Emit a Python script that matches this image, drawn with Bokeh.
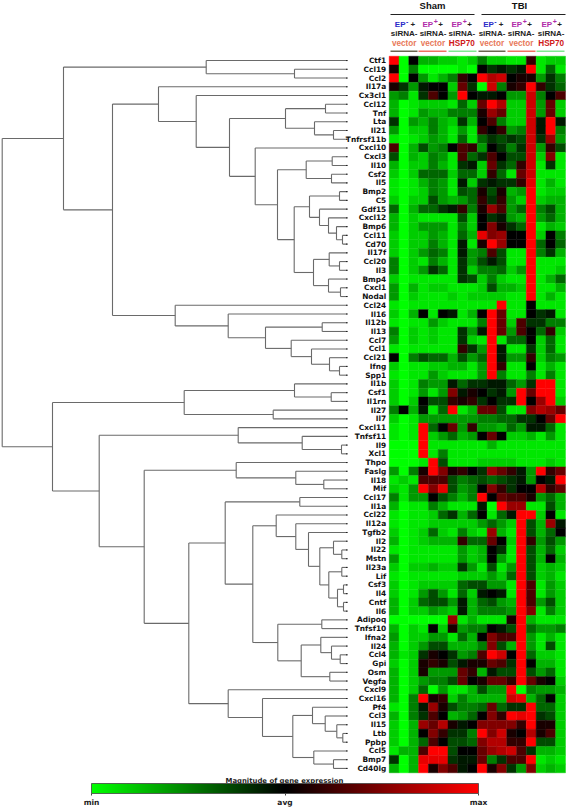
from bokeh.plotting import figure
from bokeh.models import ColumnDataSource, LinearColorMapper, ColorBar, FixedTicker, Range1d
from bokeh.transform import transform
from bokeh.core.properties import value
from bokeh.embed import file_html
from bokeh.resources import INLINE

genes = ["Ctf1","Ccl19","Ccl2","Il17a","Cx3cl1","Ccl12","Tnf","Lta","Il21","Tnfrsf11b","Cxcl10","Cxcl3","Il10","Csf2","Il5","Bmp2","C5",
 "Gdf15","Cxcl12","Bmp6","Ccl11","Cd70","Il17f","Ccl20","Il3","Bmp4","Cxcl1","Nodal","Ccl24","Il16","Il12b","Il13","Ccl7","Ccl1","Ccl21","Ifng","Spp1",
 "Il1b","Csf1","Il1rn","Il27","Il7","Cxcl11","Tnfsf11","Il9","Xcl1","Thpo","Faslg","Il18","Mif","Ccl17","Il1a","Ccl22","Il12a","Tgfb2","Il2","Il22","Mstn",
 "Il23a","Lif","Csf3","Il4","Cntf","Il6","Adipoq","Tnfsf10","Ifna2","Il24","Ccl4","Gpi","Osm","Vegfa","Cxcl9","Cxcl16","Pf4","Ccl3","Il15","Ltb","Ppbp","Ccl5","Bmp7","Cd40lg"]

# magnitude of expression per gene, 18 samples; 0 = min, 5 = avg, 10 = max
expression = [
[10,0,5,1.5,1.5,1,1,.5,1,2.5,1,1,.5,.5,6,.5,1,1],
[5.5,0,2.5,0,0,0,0,.5,0,5,4,4.5,4,4.5,10,.5,3,.5],
[10,0,5,2,.5,1.5,2.5,6,5,10,8.5,9,5,5.5,5.5,2,4,2.5],
[5.5,4,2,4.5,5,5,1,7,4,0,9,2.5,5.5,6,10,6,4,3],
[2,2.5,.5,4,6.5,5,2,10,5,4.5,4.5,5,2,2,9,2.5,5,6.5],
[1.5,0,.5,1,1,1,.5,3,1,7,10,8.5,1,1,9,2,7,1],
[1.5,0,.5,2,1.5,1.5,2.5,2.5,2.5,5.5,8,7,1,1,9,2,7,1],
[4,0,2,1.5,2.5,1.5,1,4,1.5,5,6.5,2.5,1,1,9,4.5,10,4.5],
[2,0,1,1,2.5,1.5,.5,2,.5,6,5,6,2,2.5,9,4.5,10,2.5],
[.5,0,.5,1,2,1.5,.5,3,.5,3,4,3.5,4,3.5,9,4,8,2],
[6.5,0,1.5,3.5,2,2.5,5,6.5,6,2,5,4,2.5,4,9,2,6,3.5],
[3.5,0,1.5,1,2.5,2,.5,6.5,3,4,6.5,5,3.5,3.5,9,1,7.5,.5],
[1.5,0,1,1,2.5,1.5,.5,4,4.5,1,7,4,3,6,9,.5,4,.5],
[1,0,1,3,3,3,1,3,3,1,6,3,.5,7,9,.5,.5,.5],
[.5,0,.5,1.5,2.5,2,.5,4.5,1,4,4.5,4,4,6,9.5,.5,1.5,.5],
[.5,0,.5,1,2.5,2,.5,3.5,3,5.5,3.5,5.5,1.5,2,10,.5,1,1],
[1,0,1,1,3.5,2,1.5,2,3,6,4,6,2,1,10,1,1.5,1.5],
[3,0,1.5,3,3,4,4.5,6,2.5,5.5,8,6.5,2,3,10,2.5,3.5,1.5],
[1.5,0,1,.5,.5,.5,.5,3.5,1,5,4,4.5,2,1.5,10,2,3,1.5],
[1.5,0,1,2,2,2,.5,2.5,1,5,7.5,5.5,4,3,10,.5,1.5,1],
[1,0,1,1,2,1.5,.5,3,1.5,9.5,7.5,8,5,5,10,1,5,2.5],
[1,0,1,1,2.5,1.5,.5,4.5,.5,5.5,10,8,5,5,10,3,5,3],
[1,0,1,2,3,2.5,.5,4.5,2,2.5,6.5,3.5,.5,.5,10,2.5,4,1.5],
[2.5,0,1,.5,2.5,1.5,.5,4,2,3.5,4.5,3.5,.5,.5,10,.5,.5,.5],
[2.5,0,1,2,4,3,.5,4,1,2.5,2.5,3,1,2,10,.5,.5,1],
[1,0,.5,.5,.5,.5,.5,4,3.5,1,2.5,1,.5,.5,10,.5,1.5,3],
[2,0,1.5,.5,1,1,.5,.5,.5,1,3.5,1.5,1.5,1,10,.5,.5,1.5],
[2,0,1,.5,.5,.5,1,.5,1,1,1,1,.5,.5,10,.5,1.5,.5],
[.5,0,.5,.5,.5,.5,.5,.5,.5,.5,.5,10,.5,.5,5,.5,.5,.5],
[1,0,1.5,5,.5,5,4.5,.5,1.5,5,10,7,.5,.5,5,4,4.5,.5],
[.5,0,.5,.5,2,1,.5,.5,.5,2.5,10,7,1,6.5,4,4,2.5,2.5],
[2.5,0,1,.5,1,.5,.5,4,2,4.5,10,7,2,6.5,5,3,6,1],
[2,0,1,.5,1,.5,.5,4,1,.5,10,.5,3,3,5,1,3,.5],
[.5,0,.5,.5,.5,.5,.5,6,4,2,10,4.5,.5,.5,4,1,3,.5],
[5,0,2.5,3.5,3,3,1.5,3.5,2,3,10,4.5,2,2,6,1,2.5,2],
[1,0,.5,.5,1,1,1.5,1.5,.5,2,10,6,.5,.5,5,.5,1.5,.5],
[.5,0,.5,.5,2,1,.5,.5,.5,2,10,2.5,.5,.5,2.5,.5,2.5,.5],
[1,0,.5,2.5,2,2,4.5,3,4,4,4.5,4.5,3,2,4,10,10,.5],
[1,0,.5,2,.5,2,7.5,4.5,5.5,5,4,4.5,2,10,7,10,10,.5],
[1,0,1,5,3.5,3.5,6,5.5,6,4,5,4,4,10,5,8,10,1],
[2.5,5,1.5,4.5,.5,3,10,.5,1.5,7,7,3.5,.5,.5,7.5,8.5,8,7],
[1,0,.5,2,2,2,2,2,2,2.5,2.5,3,3,4,4,5,7,10],
[.5,0,.5,10,3,5,7,2,6,2,2,1.5,3,2,4.5,4.5,3,.5],
[.5,0,.5,10,1,2,3,1.5,2,5,7,5,1,1,1.5,.5,2,.5],
[0,0,0,10,.5,.5,.5,.5,.5,.5,1.5,.5,.5,.5,.5,.5,.5,.5],
[0,0,0,10,.5,2.5,.5,.5,.5,.5,.5,.5,.5,.5,.5,.5,.5,.5],
[0,0,0,.5,10,3.5,.5,.5,.5,1,1,1,1,.5,.5,.5,1,.5],
[2,0,2.5,5.5,10,7.5,5.5,6,5,4,8,7,6,4.5,2,10,6,7],
[.5,1,.5,6.5,6.5,6.5,3.5,2.5,3,3.5,3,3.5,4,4.5,2,5,4.5,10],
[1,.5,2,10,7.5,9.5,3.5,2,2.5,5,7.5,6,4,5,5,8.5,6,7],
[2.5,.5,2,2,5,3.5,2.5,1.5,2.5,10,5,7,6.5,6.5,5.5,2,3,1.5],
[1.5,0,.5,.5,2.5,1.5,.5,.5,.5,4.5,0,10,8,8,.5,.5,3.5,1.5],
[.5,0,.5,.5,1,3,4,1.5,3,5,.5,3,4.5,10,10,1,5,.5],
[.5,0,.5,.5,1,1,1,1,1,2,3,2,1,10,3.5,1.5,8,4.5],
[1,0,.5,1,3,1,.5,2.5,1,.5,8,1.5,.5,10,3.5,1.5,3,5],
[1.5,0,.5,1,1.5,1.5,1.5,6,3,3,7,5,1,10,6,2,3.5,2],
[.5,0,.5,.5,.5,.5,.5,2,1,1.5,5,4,.5,10,3.5,1.5,3,1],
[2,0,.5,.5,.5,.5,.5,2,1,1.5,5,2,.5,10,3.5,1.5,5,1.5],
[1,0,1,1,1.5,1,1,4,2,.5,3.5,.5,2,10,3.5,1,1.5,1],
[.5,0,.5,.5,.5,.5,.5,1,1,1,2,1,3,10,3.5,1,1.5,.5],
[1,0,.5,1,1,1,1,3,3.5,3.5,2,2,.5,10,6.5,.5,2,1],
[1,0,.5,2,3.5,2,.5,3,1,4.5,5,4.5,.5,10,6.5,.5,2,1],
[1.5,0,1,3,3.5,3.5,2,4.5,1.5,3,3.5,2,1.5,10,6.5,2,3.5,1],
[1.5,0,1,1,2,1.5,1,4.5,1.5,2.5,2.5,2.5,2,10,7.5,.5,2.5,1],
[0,0,0,0,0,0,8,.5,1.5,.5,.5,.5,5.5,10,1.5,.5,.5,.5],
[1.5,0,1,.5,5,1,5.5,2,2.5,2.5,5,4.5,3.5,10,3,2,2,2.5],
[2,0,1,1,2,2,.5,3,1.5,5,7.5,6.5,6.5,10,2,.5,1.5,.5],
[1.5,0,1,2,3.5,3.5,1.5,1.5,1.5,2.5,7.5,3.5,1.5,10,2,.5,3.5,.5],
[1.5,.5,1,4,5.5,5,4,2,2.5,6.5,10,9,5,10,3,1,1,.5],
[1,0,1,5.5,6,5.5,3.5,4.5,5.5,5.5,7,6.5,4,10,5,1.5,1.5,.5],
[1.5,0,1,5.5,2,2,2,7,6,1.5,4.5,3.5,3.5,10,3.5,2,3,.5],
[1.5,0,1,2,2.5,2.5,3.5,7,5,5.5,7,7,6,10,7,5.5,5,1],
[1.5,0,1,3,0,2,.5,.5,1.5,3.5,2,2,10,0,2.5,2,2,1.5],
[1.5,0,2.5,10,5.5,6,1,2.5,1.5,1.5,1.5,1.5,9,9.5,1.5,3,5,1],
[.5,0,2.5,4.5,8,5.5,3.5,2.5,2.5,3,7,3,4,4,10,3,3,1],
[1.5,0,2.5,4,6.5,5,1.5,2,3,5,7.5,6,10,9.5,10,4,3.5,1],
[1,0,1.5,8,7,8.5,5.5,4.5,5,7.5,7.5,7.5,7.5,6,10,5.5,5.5,1],
[1,0,1.5,5,7.5,6,4,4,2.5,10,7.5,9,5.5,5,8.5,5.5,6.5,1],
[1,0,1.5,3,6.5,5,3.5,3.5,3,7.5,8.5,8.5,6,6,10,3.5,3.5,1],
[.5,1.5,1.5,6.5,10,10,3.5,5,5,7,8,8.5,9,6.5,4,1.5,1.5,1],
[4,0,1.5,9.5,9.5,9.5,4,4.5,4.5,7,2.5,4,6.5,6.5,10,.5,1,.5],
[1.5,0,1.5,10,5.5,7.5,6.5,4.5,5,10,5.5,7.5,4,2,7.5,1,1.5,1],
]

# dendrogram: (merge position, upper branch, lower branch); a string is a gene leaf
tree = (1.7,
 (63,
  (205.7, "Ctf1", (294, "Ccl19", "Ccl2")),
  (112,
   (158, "Il17a", (195.7, "Cx3cl1", (229,
      (285, (325, "Ccl12", "Tnf"), (314, "Lta", (333, "Il21", "Tnfrsf11b"))),
      (254.7, "Cxcl10", (277,
         (305.7, (331.7, "Cxcl3", "Il10"), (331, "Csf2", "Il5")),
         (293.7,
           (309, (339, "Bmp2", "C5"), (319, "Gdf15", (328, "Cxcl12", (336, "Bmp6", (342, "Ccl11", "Cd70"))))),
           (313, (328.7, "Il17f", (339, "Ccl20", "Il3")), (328, "Bmp4", (340, "Cxcl1", "Nodal"))))))))),
   (174.7, "Ccl24", (227.7, "Il16", (265, (321.7, "Il12b", "Il13"),
      (290.7, "Ccl7", (311, "Ccl1", (329, "Ccl21", (339, "Ifng", "Spp1"))))))))),
 (52,
  (183.7, (294, "Il1b", (330.7, "Csf1", "Il1rn")), (272.7, "Il27", "Il7")),
  (98.7,
   (237.7, "Cxcl11", (301.7, "Tnfsf11", (341, "Il9", "Xcl1"))),
   (143.7,
    (235.7, "Thpo", (295.3, "Faslg", (323.3, "Il18", "Mif"))),
    (188.3,
     (224.7,
      (299.3, "Ccl17", "Il1a"),
      (252.3,
       (275.7, "Ccl22", (295.3, "Il12a", (308, "Tgfb2", (319.3,
          (333, "Il2", (341.3, "Il22", "Mstn")),
          (328.3, (341.3, "Il23a", "Lif"), (337, (343, "Csf3", "Il4"), (343, "Cntf", "Il6"))))))),
       (277.3, (321.3, "Adipoq", "Tnfsf10"),
          (300.7, (320.3, "Ifna2", (331, "Il24", (339.7, "Ccl4", "Gpi"))), (329.3, "Osm", "Vegfa"))))),
     (227.7, "Cxcl9", (262, "Cxcl16", (292.3,
        (312, "Pf4", (324.7, "Ccl3", (336.3, "Il15", (342.3, "Ltb", "Ppbp")))),
        (313.3, "Ccl5", (333, "Bmp7", "Cd40lg"))))))))))

group_labels = ["Sham", "TBI"]
ep_labels = ["-", "+", "+", "-", "+", "+"]
sirna_labels = ["vector", "vector", "HSP70", "vector", "vector", "HSP70"]
bar_labels = ["min", "avg", "max"]
bar_ticks = [0, 5, 10]

W, H = 567, 808
X0, X1, Y0, Y1 = 388.7, 565.0, 55.7, 772.3
CW = (X1 - X0) / 18
RH = (Y1 - Y0) / len(genes)
LEAF_X = 347

p = figure(width=W, height=H, output_backend="svg", toolbar_location=None,
           x_range=Range1d(0, W), y_range=Range1d(H, 0), min_border=0,
           outline_line_color=None, background_fill_color="white", border_fill_color="white")
p.axis.visible = False
p.grid.visible = False
p.styles = {"position": "absolute", "left": "0px", "top": "0px"}

def row_y(i):
    return Y0 + RH * (i + 0.5)

# heat map
palette = []
for i in range(128):
    palette.append("#%02x%02x00" % (0, round(255 * (1 - i / 127))))
for i in range(128):
    palette.append("#%02x%02x00" % (round(255 * i / 127), 0))
mapper = LinearColorMapper(palette=palette, low=0, high=10)
xs, ys, vs = [], [], []
for r, row in enumerate(expression):
    for c, v in enumerate(row):
        xs.append(X0 + CW * (c + 0.5))
        ys.append(row_y(r))
        vs.append(v)
src = ColumnDataSource(dict(x=xs, y=ys, v=vs))
p.rect("x", "y", width=CW, height=RH, source=src, fill_color=transform("v", mapper),
       line_color=transform("v", mapper), line_width=0.4)

# dendrogram
seg_x0, seg_y0, seg_x1, seg_y1 = [], [], [], []
row_of = {g: i for i, g in enumerate(genes)}
def walk(node):
    if isinstance(node, str):
        return LEAF_X, row_y(row_of[node])
    h, a, b = node
    xa, ya = walk(a)
    xb, yb = walk(b)
    seg_x0.extend([h, h, h]); seg_y0.extend([ya, ya, yb])
    seg_x1.extend([h, xa, xb]); seg_y1.extend([yb, ya, yb])
    return h, (ya + yb) / 2
root_x, root_y = walk(tree)
p.segment(seg_x0, seg_y0, seg_x1, seg_y1, line_color="#6a6a6a", line_width=1.1)
p.segment([LEAF_X - 1.5] * len(genes), [row_y(i) for i in range(len(genes))],
          [LEAF_X] * len(genes), [row_y(i) for i in range(len(genes))], line_color="#222222", line_width=1)

# gene labels
p.text([385.7] * len(genes), [row_y(i) for i in range(len(genes))], text=genes,
       text_align="right", text_baseline="middle", text_font=value("DejaVu Sans"),
       text_font_style="bold", text_font_size="7.4px", text_color="#111111")

# group headers
p.text([432, 519], [5, 5], text=group_labels, text_align="center", text_baseline="middle",
       text_font=value("Liberation Sans"), text_font_style="bold", text_font_size="9.5px", text_color="#111111")
p.segment([390, 481], [14, 14], [474, 565], [14, 14], line_color="#222222", line_width=1.2)

ep_right = [405, 432.7, 461.7, 493.3, 521.7, 551.7]
col_cx = [403.7, 432.5, 461.3, 491.5, 520.7, 550.7]
ep_col = {"-": "#2a2ac8", "+": "#b02ca8"}
sample_col = {"vector": "#e8795a", "HSP70": "#d01818"}
bar_col = ["#6b6650", "#f07060", "#7fe890", "#6b6650", "#f07060", "#7fe890"]
bar_l = [390, 418, 448, 478, 507, 536]
bar_r = [417, 446, 476, 505, 535, 564]
for er, cx, e, s, bc, l, r in zip(ep_right, col_cx, ep_labels, sirna_labels, bar_col, bar_l, bar_r):
    p.text([er], [23.5], text=["EP"], text_align="right", text_baseline="middle",
           text_font=value("Liberation Sans"), text_font_style="bold", text_font_size="8px", text_color=ep_col[e])
    p.text([er + 0.5], [20.5], text=[e], text_align="left", text_baseline="middle",
           text_font=value("Liberation Sans"), text_font_style="bold", text_font_size="7px", text_color=ep_col[e])
    p.text([er + 5], [23.5], text=["+"], text_align="left", text_baseline="middle",
           text_font=value("Liberation Sans"), text_font_style="bold", text_font_size="8px", text_color="#222222")
    p.text([cx], [33], text=["siRNA-"], text_align="center", text_baseline="middle",
           text_font=value("Liberation Sans"), text_font_style="bold", text_font_size="8px", text_color="#222222")
    p.text([cx], [42.8], text=[s], text_align="center", text_baseline="middle",
           text_font=value("Liberation Sans"), text_font_style="bold", text_font_size="8.2px", text_color=sample_col[s])
    p.segment([l], [50.8], [r], [50.8], line_color=bc, line_width=1.4)

# colour bar
cb = ColorBar(color_mapper=mapper, orientation="horizontal", width=387, height=10, location=(91, -1),
              padding=0, margin=0,
              ticker=FixedTicker(ticks=bar_ticks), major_label_overrides=dict(zip(bar_ticks, bar_labels)),
              major_label_text_font="DejaVu Sans", major_label_text_font_style="bold", major_label_text_font_size="7.5px",
              major_label_text_color="#222222", major_tick_line_color="#444444", major_tick_in=0, major_tick_out=2,
              minor_tick_line_color=None, bar_line_color="#444444", bar_line_width=0.8, label_standoff=2,
              background_fill_color=None, border_line_color=None)
p.add_layout(cb, "center")
p.text([284], [780], text=["Magnitude of gene expression"], text_align="center", text_baseline="middle",
       text_font=value("DejaVu Sans"), text_font_style="bold", text_font_size="6.9px", text_color="#222222")

open("out.html", "w").write(file_html(p, INLINE))
